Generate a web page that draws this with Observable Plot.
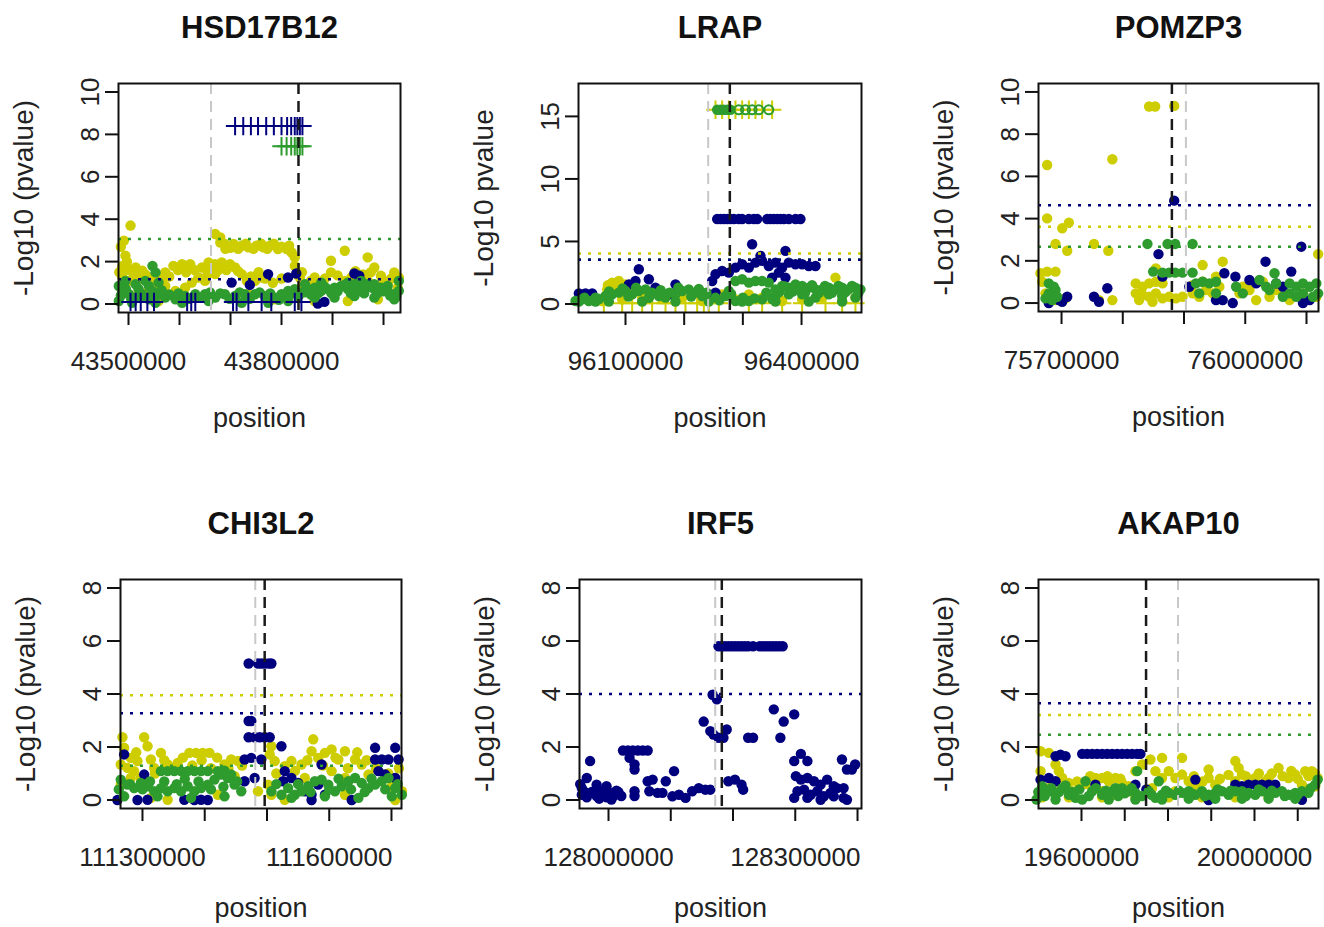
<!DOCTYPE html>
<html><head><meta charset="utf-8">
<script src="https://cdn.jsdelivr.net/npm/d3@7"></script>
<script src="https://cdn.jsdelivr.net/npm/@observablehq/plot@0.6"></script>
<style>
html,body{margin:0;padding:0;background:#fff;}
#wrap{position:relative;width:1324px;height:927px;overflow:hidden;background:#fff;}
#wrap svg{position:absolute;overflow:visible;}
</style></head><body><div id="wrap"></div>
<script>
// ---------------- DATA ----------------
const titles = ["HSD17B12","LRAP","POMZP3","CHI3L2","IRF5","AKAP10"];
const yLabels = ["-Log10 (pvalue)","-Log10 pvalue","-Log10 (pvalue)","-Log10 (pvalue)","-Log10 (pvalue)","-Log10 (pvalue)"];

// Panel 1: HSD17B12
const p1Yellow = [[43504000,3.70],[43491000,2.99],[43494000,2.28],[43488000,1.80],[43501000,1.64],[43514000,1.72],[43527000,1.57],[43540000,1.25],[43559000,1.25],[43572000,1.49],[43588000,1.80],[43605000,1.88],[43621000,1.88],[43644000,1.72],[43670000,3.30],[43680000,3.14],[43689000,2.83],[43706000,2.83],[43722000,2.75],[43735000,2.67],[43751000,2.75],[43764000,2.67],[43777000,2.75],[43793000,2.59],[43810000,2.59],[43820000,2.43],[43826000,2.20],[43826000,1.80],[43829000,1.41],[43657000,1.96],[43670000,1.88],[43683000,1.96],[43699000,1.88],[43709000,1.72],[43722000,1.41],[43732000,1.09],[43748000,1.09],[43761000,1.25],[43670000,1.41],[43650000,1.09],[43637000,1.25],[43624000,1.01],[43611000,0.77],[43592000,0.62],[43572000,0.85],[43553000,0.85],[43540000,0.62],[43520000,0.62],[43501000,1.09],[43488000,1.25],[43897000,2.04],[43924000,2.51],[43897000,1.49],[43924000,1.09],[43937000,1.25],[43950000,1.09],[43969000,2.20],[43982000,1.72],[43995000,1.33],[44021000,1.49],[44030000,1.25],[43878000,0.93],[43852000,0.93],[43865000,1.25],[43969000,1.09],[44008000,0.93],[44028000,0.77],[43836000,1.25],[43839000,0.77],[43559000,0.14],[43605000,0.30],[43644000,0.30],[43735000,0.46],[43787000,0.22],[43813000,0.38],[43865000,0.14],[43930000,0.14],[43989000,0.22],
  [43700000,2.65],[43715000,2.60],[43730000,2.85],[43745000,2.60],[43760000,2.85],[43772000,2.60],[43785000,2.85],[43800000,2.70],[43815000,2.75],[43690000,2.60],[43680000,2.90],[43485000,2.70],[43497000,2.00],
  [43482000,1.50],[43495000,1.60],[43510000,1.40],[43520000,1.20],[43533000,1.40],[43546000,1.05],[43565000,1.10],[43580000,1.30],[43597000,1.60],[43613000,1.50],[43630000,1.60],[43655000,1.40],[43663000,1.70],[43676000,1.60],[43692000,1.60],[43715000,1.55],[43740000,1.30],[43755000,1.50],[43768000,1.20],[43783000,1.00],[43800000,1.20],[43840000,1.50],[43858000,1.10],[43885000,1.20],[43910000,1.35],[43945000,1.55],[43960000,1.40],[43975000,1.50],[44000000,1.10],[44015000,1.20]];
const p1Blue = [[43773700,1.41],[43702200,1.01],[43737900,0.90],[43812700,1.25],[43829000,1.44],[43942700,1.44],[43952500,1.33],[43871200,0.02],[43884200,0.10]];
const p1Green = [[43547000,1.80],[43553000,1.49],[43494000,1.09],[43514000,0.93],[43533000,1.09],[43481000,0.85],[43540000,0.85],[43559000,1.01],[43846000,0.93],[43878000,1.01],[43930000,1.01],[43956000,1.09],[43982000,0.93],[44008000,0.85],[44030000,1.09],[43488000,0.62],[43501000,0.46],[43514000,0.30],[43527000,0.46],[43540000,0.22],[43559000,0.46],[43572000,0.30],[43592000,0.22],[43611000,0.38],[43631000,0.46],[43650000,0.46],[43670000,0.30],[43689000,0.46],[43709000,0.38],[43728000,0.46],[43748000,0.46],[43767000,0.38],[43787000,0.30],[43800000,0.46],[43813000,0.62],[43826000,0.70],[43839000,0.54],[43852000,0.70],[43865000,0.77],[43878000,0.62],[43891000,0.70],[43904000,0.77],[43917000,0.85],[43930000,0.70],[43943000,0.93],[43956000,0.77],[43969000,0.93],[43982000,0.70],[43995000,0.77],[44008000,0.62],[44021000,0.46],[44030000,0.62],[43481000,0.14],[43507000,0.06],[43553000,0.06],[43605000,0.06],[43657000,0.14],[43722000,0.06],[43774000,0.06],[43813000,0.14],[43865000,0.30],[43904000,0.30],[43943000,0.38],[43982000,0.30],[44021000,0.22],
  [43485000,0.40],[43495000,0.70],[43505000,0.25],[43520000,0.70],[43533000,0.30],[43547000,0.60],[43565000,0.65],[43580000,0.45],[43598000,0.50],[43620000,0.25],[43640000,0.30],[43660000,0.55],[43680000,0.50],[43698000,0.25],[43718000,0.55],[43738000,0.25],[43757000,0.55],[43778000,0.50],[43795000,0.20],[43808000,0.40],[43820000,0.50],[43833000,0.35],[43846000,0.55],[43858000,0.45],[43872000,0.50],[43885000,0.80],[43898000,0.50],[43910000,0.60],[43923000,0.90],[43936000,0.50],[43950000,0.60],[43962000,0.50],[43975000,0.80],[43988000,0.50],[44000000,0.60],[44013000,0.40],[44025000,0.35]];
const p1BluePlus = [[43709000,8.39],[43725000,8.39],[43740000,8.39],[43754000,8.39],[43770000,8.39],[43785000,8.39],[43800000,8.39],[43811000,8.39],[43819000,8.39],[43826000,8.39],[43831000,8.39],[43836000,8.39],[43841000,8.39],[43504000,0.1],[43514000,0.1],[43524000,0.1],[43537000,0.1],[43550000,0.1],[43615000,0.1],[43623000,0.1],[43631000,0.1],[43705000,0.1],[43712000,0.1],[43735000,0.1],[43761000,0.1],[43780000,0.1],[43826000,0.1],[43839000,0.1]];
const p1GreenPlus = [[43800000,7.44],[43810000,7.44],[43819000,7.44],[43826000,7.44],[43831000,7.44],[43836000,7.44],[43841000,7.44]];
const p1Thresholds = [["green",3.07],["blue",1.17]];
const p1Genes = {grey:43661800, black:43833300};
const p1XTicks = [43500000,43600000,43700000,43800000,43900000,44000000];
const p1XLabels = [43500000,43800000];
const p1YTicks = [0,2,4,6,8,10];

// Panel 2: LRAP
const p2Yellow = [[96077300,1.71],[96088600,1.84],[96100000,1.57],[96068800,1.17],[96083000,1.17],[96457800,2.11],[96060200,0.24],[96094300,0.37],[96128400,0.51],[96162500,0.37],[96196600,0.51],[96230600,0.24],[96264700,0.77],[96287400,0.37],[96310200,0.77],[96332900,0.51],[96367000,0.24],[96401000,0.37],[96435100,0.51],[96469200,0.24],[96491900,0.51],[96070000,1.50],[96092000,1.45],[96105000,1.30]];
const p2YellowPlus = [[96253400,15.53],[96264700,15.53],[96276100,15.53],[96287400,15.53],[96298800,15.53],[96310200,15.53],[96321500,15.53],[96332900,15.53],[96349900,15.53],[96063100,0.05],[96094300,0.05],[96111400,0.05],[96128400,0.05],[96145400,0.05],[96168200,0.05],[96185200,0.05],[96202200,0.05],[96222100,0.05],[96233500,0.05],[96242000,0.05],[96259000,0.05],[96310200,0.05],[96332900,0.05],[96367000,0.05],[96401000,0.05],[96440800,0.05],[96469200,0.05],[96491900,0.05]];
const p2Blue = [[96256200,6.79],[96261900,6.79],[96267600,6.79],[96273200,6.79],[96278900,6.79],[96284600,6.79],[96293100,6.79],[96298800,6.79],[96310200,6.79],[96318700,6.79],[96324400,6.79],[96341400,6.79],[96347100,6.79],[96352800,6.79],[96358400,6.79],[96364100,6.79],[96369800,6.79],[96378300,6.79],[96389700,6.79],[96398200,6.79],[96315800,4.78],[96330000,3.85],[96372600,4.25],[96122700,2.78],[96139800,1.98],[96185200,1.57],[96247700,1.84],[96253400,2.38],[96264700,2.64],[96276100,2.51],[96287400,2.91],[96298800,3.18],[96310200,2.91],[96321500,3.31],[96332900,3.45],[96344200,3.04],[96355600,3.31],[96367000,2.91],[96378300,3.31],[96389700,3.18],[96401000,3.18],[96412400,3.04],[96423800,3.04],[96361300,2.51],[96372600,2.11],[96349900,2.11],[96020500,0.85],[96031800,0.85],[96043200,0.85],[96105700,1.57],[96117000,1.84],[96151100,1.31],[96179500,0.77],[96242000,0.77],[96253400,0.91]];
const p2Green = [[96287400,1.84],[96298800,1.98],[96310200,1.71],[96321500,1.84],[96332900,1.84],[96344200,1.71],[96276100,1.04],[96355600,1.17],[96367000,1.44],[96378300,1.31],[96389700,1.57],[96401000,1.44],[96412400,1.31],[96423800,1.17],[96435100,1.17],[96446500,1.31],[96457800,1.17],[96469200,1.31],[96480500,1.17],[96491900,1.31],[96500400,1.17],[96014800,0.24],[96026200,0.37],[96037500,0.24],[96048900,0.51],[96065900,0.64],[96077300,0.77],[96088600,0.91],[96100000,1.04],[96111400,0.77],[96122700,1.04],[96134100,1.17],[96145400,0.91],[96156800,0.64],[96168200,0.51],[96185200,0.77],[96196600,1.04],[96207900,1.17],[96219300,0.91],[96230600,0.64],[96253400,0.51],[96270400,0.64],[96287400,0.24],[96310200,0.24],[96332900,0.37],[96355600,0.64],[96378300,0.77],[96401000,0.77],[96423800,0.51],[96446500,0.77],[96469200,0.64],[96491900,0.51],[96020500,0.2],[96048900,0.2],[96071600,0.2],[96128400,0.2],[96185200,0.2],[96242000,0.2],[96298800,0.2],[96355600,0.2],[96412400,0.2],[96469200,0.2],
  [96030000,0.50],[96055000,0.40],[96072000,1.00],[96095000,1.25],[96105000,0.60],[96118000,1.30],[96140000,0.50],[96160000,1.10],[96175000,0.90],[96190000,1.30],[96212000,0.60],[96225000,1.20],[96238000,0.90],[96260000,0.30],[96280000,0.80],[96300000,0.50],[96320000,0.45],[96340000,0.90],[96350000,0.40],[96362000,0.95],[96372000,1.40],[96385000,1.00],[96395000,1.25],[96406000,0.90],[96418000,1.50],[96430000,0.90],[96440000,1.45],[96452000,0.90],[96463000,1.45],[96475000,0.95],[96486000,1.45],[96497000,0.90],
  [96256200,15.53],[96261900,15.53],[96267600,15.53],[96273200,15.53],[96278900,15.53]];
const p2GreenRing = [[96293100,15.53],[96304500,15.53],[96315800,15.53],[96327200,15.53],[96344200,15.53]];
const p2Thresholds = [["yellow",4.03],["green",3.55],["blue",3.53]];
const p2Genes = {grey:96240900, black:96277800};
const p2XTicks = [96100000,96200000,96300000,96400000];
const p2XLabels = [96100000,96400000];
const p2YTicks = [0,5,10,15];

// Panel 3: POMZP3
const p3Yellow = [[75843000,9.31],[75852900,9.31],[75884000,9.34],[75676500,6.54],[75783000,6.81],[75676500,4.01],[75701100,3.54],[75712000,3.81],[75690200,2.80],[75709300,2.48],[75753000,2.80],[75776400,2.48],[76119000,2.32],[75963200,1.96],[75930400,1.80],[75952200,1.25],[75665600,1.41],[75676500,1.49],[75690200,1.49],[75668300,1.01],[75673800,0.46],[75690200,0.14],[75706500,0.22],[75761100,0.14],[75783000,0.14],[75821200,0.93],[75832100,0.77],[75843000,0.93],[75854000,1.01],[75864900,0.93],[75821200,0.46],[75832100,0.38],[75843000,0.30],[75854000,0.46],[75864900,0.22],[75875800,0.30],[75886700,0.22],[75897600,0.30],[75826700,0.14],[75848500,0.06],[75854000,1.64],[75914000,0.46],[75924900,0.30],[75935900,0.62],[75946800,0.46],[75957700,0.77],[75930400,1.01],[75914000,0.85],[75990500,0.46],[75996000,0.77],[76017800,0.14],[76039600,0.30],[76050500,0.62],[76072400,0.14],[76094200,0.46],[76116100,0.30],[76028700,1.01],[76006800,0.62]];
const p3Blue = [[75884000,4.85],[75858300,2.32],[76091500,2.67],[76033100,1.96],[76075100,1.49],[75983900,1.25],[75965900,1.41],[75864900,1.25],[75774800,0.70],[75753000,0.30],[75761100,0.06],[75709300,0.30],[75701100,0.06],[75963200,0.14],[75908600,0.77],[75952200,0.14],[75979600,0.00],[76006800,1.09],[76017800,0.93],[76050500,0.93],[76061400,0.77],[76094200,0.00],[76105200,0.14],[75679200,0.00],[75695600,0.14]];
const p3Green = [[75840300,2.80],[75873100,2.80],[75885600,2.80],[75914000,2.80],[75849600,1.49],[75864900,1.44],[75875800,1.44],[75885600,1.44],[75897600,1.44],[75914000,1.44],[75919500,0.93],[75930400,1.01],[75941300,0.93],[75952200,1.01],[75924900,0.46],[75952200,0.46],[75985000,0.77],[75996000,0.46],[76023200,1.09],[76034200,0.77],[76047800,1.41],[76050500,0.93],[76072400,0.93],[76083300,0.77],[76094200,0.93],[76072400,0.46],[76083300,0.30],[76094200,0.46],[76105200,0.77],[76116100,0.93],[76119000,0.46],[76110600,0.30],[76039600,0.62],[76061400,0.30],[75679200,0.93],[75687400,0.77],[75690200,0.62],[75679200,0.46],[75673800,0.22],[75692900,0.30],[75684700,0.14]];
const p3Thresholds = [["blue",4.63],["yellow",3.62],["green",2.67]];
const p3Genes = {grey:75903100, black:75880200};
const p3XTicks = [75700000,75800000,75900000,76000000,76100000];
const p3XLabels = [75700000,76000000];
const p3YTicks = [0,2,4,6,8,10];

// Panel 4: CHI3L2
const p4Yellow = [[111267800,2.37],[111302700,2.37],[111308100,2.03],[111329600,1.78],[111375300,1.78],[111386100,1.78],[111396800,1.78],[111407600,1.78],[111574300,2.29],[111507100,2.03],[111504400,1.72],[111270500,1.97],[111281200,1.59],[111292000,1.47],[111313500,1.53],[111275800,1.21],[111265100,1.34],[111286600,1.09],[111318800,1.21],[111297300,0.83],[111340400,1.34],[111356500,1.40],[111431800,1.34],[111442500,1.53],[111453300,1.47],[111512400,1.47],[111528600,1.28],[111539300,1.47],[111555400,1.34],[111571600,1.84],[111582300,1.59],[111593100,1.78],[111603800,1.91],[111614600,1.53],[111625300,1.84],[111641500,1.53],[111652200,1.34],[111663000,0.96],[111625300,0.83],[111603800,1.09],[111560800,0.83],[111501700,0.58],[111485500,0.33],[111507100,0.20],[111421000,0.20],[111340400,0.01],[111313500,0.08],[111706000,0.83],[111716700,0.33],[111706000,0.00],[111281200,0.83],[111265100,0.58],[111528600,0.01],[111625300,0.20],
  [111290000,1.80],[111320000,1.00],[111335000,1.50],[111350000,1.20],[111365000,1.60],[111380000,1.30],[111395000,1.50],[111410000,1.20],[111420000,1.60],[111438000,1.20],[111448000,0.90],[111460000,1.30],[111515000,1.00],[111545000,1.10],[111565000,1.50],[111590000,1.30],[111610000,1.60],[111630000,1.20],[111645000,1.80],[111660000,1.50],[111675000,1.20],[111695000,1.00],[111712000,1.20],[111700000,0.50]];
const p4Blue = [[111470500,5.15],[111485500,5.15],[111490900,5.15],[111496300,5.15],[111502700,5.15],[111507100,5.15],[111470500,2.98],[111474800,2.98],[111470500,2.37],[111480200,2.37],[111488200,2.37],[111496300,2.37],[111504400,2.37],[111523200,2.03],[111464000,1.53],[111474800,1.59],[111490900,1.53],[111480200,0.83],[111464000,0.71],[111528600,1.09],[111539300,0.83],[111525900,0.71],[111550100,0.64],[111560800,0.33],[111571600,0.20],[111582300,0.58],[111587700,1.34],[111593100,0.20],[111673700,1.97],[111706000,1.97],[111673700,1.53],[111684500,1.53],[111695200,1.53],[111711400,1.53],[111679100,1.09],[111689900,0.96],[111706000,0.83],[111259700,0.00],[111292000,0.00],[111308100,0.01],[111367200,0.01],[111383400,0.00],[111394100,0.01],[111404900,0.00],[111571600,0.00],[111636100,0.00],[111270500,1.72],[111302700,0.96]];
const p4Green = [[111329600,1.09],[111340400,1.09],[111351100,1.09],[111361900,1.09],[111372600,1.09],[111383400,1.09],[111394100,1.09],[111404900,1.09],[111421000,1.09],[111431800,1.11],[111442500,0.96],[111265100,0.77],[111275800,0.58],[111286600,0.45],[111297300,0.64],[111308100,0.52],[111318800,0.33],[111329600,0.45],[111340400,0.33],[111351100,0.45],[111361900,0.33],[111372600,0.52],[111383400,0.33],[111394100,0.45],[111404900,0.58],[111415600,0.77],[111426400,0.96],[111437100,0.83],[111447900,0.58],[111458700,0.33],[111507100,0.33],[111523200,0.20],[111534000,0.45],[111544700,0.20],[111555400,0.33],[111566200,0.52],[111576900,0.71],[111587700,0.77],[111598500,0.58],[111609200,0.33],[111620000,0.52],[111630700,0.71],[111641500,0.83],[111652200,0.64],[111663000,0.45],[111673700,0.58],[111684500,0.71],[111695200,0.83],[111706000,0.45],[111716700,0.20],[111270500,0.14],[111324200,0.14],[111378000,0.08],[111431800,0.14],[111539300,0.08],[111593100,0.14],[111646800,0.08],[111700600,0.14],
  [111262000,0.40],[111280000,0.60],[111300000,0.40],[111312000,0.70],[111335000,0.70],[111355000,0.60],[111368000,0.80],[111390000,0.70],[111410000,0.40],[111430000,0.50],[111452000,0.70],[111515000,0.60],[111550000,0.60],[111570000,0.30],[111600000,0.40],[111615000,0.80],[111635000,0.40],[111657000,0.30],[111668000,0.80],[111690000,0.40],[111710000,0.60]];
const p4Thresholds = [["green",1.29],["yellow",3.95],["blue",3.27]];
const p4Genes = {grey:111481200, black:111496300};
const p4XTicks = [111300000,111400000,111500000,111600000,111700000];
const p4XLabels = [111300000,111600000];
const p4YTicks = [0,2,4,6,8];

// Panel 5: IRF5 (single series)
const p5Blue = [[128176700,5.8],[128182000,5.8],[128187200,5.8],[128192500,5.8],[128197800,5.8],[128203100,5.8],[128208400,5.8],[128213700,5.8],[128219000,5.8],[128224300,5.8],[128232200,5.8],[128242800,5.8],[128248100,5.8],[128253400,5.8],[128258700,5.8],[128263900,5.8],[128269200,5.8],[128274500,5.8],[128279800,5.8],[128167200,3.97],[128174000,3.80],[128152900,2.96],[128163500,2.60],[128168700,2.47],[128176700,2.35],[128184600,2.35],[128189900,2.66],[128224300,2.35],[128232200,2.35],[128265500,3.42],[128281400,2.96],[128298300,3.23],[128276100,2.35],[128023300,1.87],[128031200,1.87],[128039100,1.87],[128047100,1.87],[128055000,1.87],[128062900,1.87],[128033800,1.59],[128041800,1.34],[128041800,1.15],[127970400,1.47],[127965100,0.83],[127980900,0.58],[127996800,0.52],[127957100,0.20],[127965100,0.10],[127973000,0.30],[127980900,0.15],[127988900,0.33],[127996800,0.10],[128004700,0.25],[128012700,0.35],[128020600,0.15],[127957100,0.45],[127985000,0.05],[128004700,0.02],[127954500,0.60],[127962000,0.30],[127978000,0.30],[127992000,0.25],[128000000,0.30],[128008000,0.15],[128016000,0.30],[128041800,0.33],[128041800,0.15],[128062900,0.71],[128070900,0.77],[128065600,0.33],[128078800,0.27],[128092000,0.71],[128105300,1.09],[128086700,0.27],[128102600,0.14],[128113200,0.20],[128123800,0.08],[128134400,0.33],[128145000,0.45],[128155500,0.39],[128163500,0.39],[128192500,0.71],[128203100,0.77],[128213700,0.58],[128216300,0.39],[128298300,1.47],[128309000,1.74],[128319500,1.47],[128301000,0.90],[128309000,0.77],[128319500,0.83],[128330100,0.71],[128340700,0.58],[128351200,0.77],[128361800,0.52],[128303600,0.33],[128314200,0.39],[128324800,0.20],[128335400,0.33],[128346000,0.14],[128356500,0.27],[128367100,0.45],[128377700,0.08],[128298300,0.08],[128319500,0.08],[128340700,0.01],[128361800,0.14],[128383000,0.01],[128375000,1.53],[128383000,1.15],[128390900,1.15],[128396200,1.34],[128377700,0.45]];
const p5Thresholds = [["blue",4.0]];
const p5Genes = {grey:128171400, black:128182000};
const p5XTicks = [128000000,128100000,128200000,128300000,128400000];
const p5XLabels = [128000000,128300000];
const p5YTicks = [0,2,4,6,8];

// Panel 6: AKAP10
const p6Yellow = [[19505300,1.84],[19524600,1.78],[19540000,1.34],[19547700,1.09],[19555400,0.83],[19532300,0.58],[19505300,1.09],[19570800,0.64],[19586200,0.33],[19632300,0.83],[19647700,0.83],[19663100,0.71],[19678500,0.83],[19693900,0.64],[19709300,0.52],[19647700,0.33],[19678500,0.20],[19724700,1.09],[19740100,1.34],[19759300,1.53],[19786300,1.59],[19832500,1.59],[19770900,1.09],[19786300,0.83],[19801700,1.09],[19817100,0.83],[19832500,0.96],[19847900,0.71],[19863300,0.52],[19817100,0.33],[19763200,0.45],[19894000,0.83],[19894000,1.15],[19909400,0.58],[19955600,1.47],[19963300,1.21],[19971000,0.96],[19955600,0.71],[20001800,0.83],[20032600,0.83],[20055700,1.21],[20078800,0.83],[20094200,0.96],[20117200,1.09],[20132600,1.09],[20146000,0.83],[19986400,0.58],[20017200,0.45],[20048000,0.52],[20109600,0.58],[20140300,0.52],[19509200,0.10],[19570800,0.10],[19647700,0.10],[19724700,0.10],[19801700,0.10],[19878700,0.10],[19955600,0.10],[20032600,0.10],[20109600,0.10],
  [19860000,0.90],[19880000,0.70],[19920000,0.80],[19940000,0.95],[19980000,0.90],[20010000,1.00],[20025000,0.70],[20040000,1.00],[20065000,0.90],[20085000,1.10],[20100000,0.80],[20125000,0.90],[20140000,1.00],[19590000,0.70],[19610000,0.60],[19620000,0.90],[19660000,0.90],[19690000,0.80],[19700000,0.40]];
const p6Blue = [[19601600,1.74],[19613100,1.74],[19624700,1.74],[19636200,1.74],[19647700,1.74],[19659300,1.74],[19670800,1.74],[19682400,1.74],[19693900,1.74],[19705500,1.74],[19717000,1.74],[19728600,1.74],[19736300,1.74],[19540000,1.65],[19551500,1.71],[19563100,1.65],[19505300,0.77],[19524600,0.83],[19540000,0.71],[19955600,0.58],[19971000,0.52],[20001800,0.58],[20032600,0.58],[19863300,0.77],[19894000,0.00],[20109600,0.01],[19632300,0.58],[19724700,0.58],[19750000,0.40],[19986400,0.58],[20017200,0.58],[20048000,0.58]];
const p6Green = [[19728600,1.09],[19509200,0.52],[19524600,0.33],[19540000,0.20],[19555400,0.45],[19570800,0.20],[19586200,0.08],[19609300,0.71],[19624700,0.33],[19647700,0.20],[19670800,0.33],[19693900,0.45],[19709300,0.33],[19724700,0.27],[19755500,0.33],[19770900,0.08],[19786300,0.20],[19801700,0.27],[19817100,0.20],[19832500,0.27],[19847900,0.33],[19863300,0.20],[19878700,0.33],[19894000,0.20],[19909400,0.27],[19924800,0.33],[19940200,0.20],[19955600,0.33],[19971000,0.33],[19986400,0.27],[20001800,0.20],[20017200,0.33],[20032600,0.20],[20048000,0.27],[20063400,0.33],[20078800,0.20],[20094200,0.27],[20109600,0.33],[20124900,0.27],[20140300,0.58],[20146000,0.77],[19778600,0.71],[19678500,0.45],[19496000,0.02],[19540000,0.02],[19601600,0.02],[19663100,0.02],[19724700,0.02],[19786300,0.02],[19847900,0.05],[19909400,0.05],[19971000,0.05],[20032600,0.05],[20094200,0.05],
  [19500000,0.30],[19515000,0.15],[19530000,0.45],[19548000,0.30],[19563000,0.55],[19578000,0.30],[19595000,0.40],[19617000,0.15],[19633000,0.45],[19656000,0.35],[19685000,0.15],[19700000,0.25],[19716000,0.45],[19740000,0.15],[19762000,0.20],[19795000,0.35],[19825000,0.35],[19855000,0.25],[19885000,0.15],[19915000,0.40],[19945000,0.35],[19980000,0.15],[20010000,0.40],[20040000,0.35],[20070000,0.15],[20100000,0.20],[20130000,0.45]];
const p6Thresholds = [["blue",3.65],["yellow",3.21],["green",2.46]];
const p6Genes = {grey:19823200, black:19749300};
const p6XTicks = [19600000,19700000,19800000,19900000,20000000,20100000];
const p6XLabels = [19600000,20000000];
const p6YTicks = [0,2,4,6,8];

// ---------------- RENDER ----------------
const COLORS = {blue:"#00007f", yellow:"#cdcd00", green:"#2e9b2e"};
const F = {fam:'"Liberation Sans", Arial, sans-serif', tick:26, lab:27, ylab:28, title:31};

const panels = [
  {left:0, top:3, boxW:282, boxH:229, posDy:106, xDomain:[43480400,44033300], yDomain:[-0.4,10.4],
   yellow:p1Yellow, blue:p1Blue, green:p1Green, bluePlus:p1BluePlus, greenPlus:p1GreenPlus,
   thr:p1Thresholds, genes:p1Genes, xTicks:p1XTicks, xLabels:p1XLabels, yTicks:p1YTicks},
  {left:460, top:3, boxW:283, boxH:229, posDy:106, xDomain:[96019900,96502200], yDomain:[-0.68,17.63],
   yellow:p2Yellow, yellowPlus:p2YellowPlus, blue:p2Blue, green:p2Green, greenRing:p2GreenRing,
   thr:p2Thresholds, genes:p2Genes, xTicks:p2XTicks, xLabels:p2XLabels, yTicks:p2YTicks},
  {left:920, top:3, boxW:280, boxH:228, posDy:106, xDomain:[75662400,76119600], yDomain:[-0.4,10.4],
   yellow:p3Yellow, blue:p3Blue, green:p3Green,
   thr:p3Thresholds, genes:p3Genes, xTicks:p3XTicks, xLabels:p3XLabels, yTicks:p3YTicks},
  {left:2, top:499, boxW:281, boxH:229, posDy:100, xDomain:[111264700,111716100], yDomain:[-0.32,8.32],
   yellow:p4Yellow, blue:p4Blue, green:p4Green,
   thr:p4Thresholds, genes:p4Genes, xTicks:p4XTicks, xLabels:p4XLabels, yTicks:p4YTicks},
  {left:461, top:499, boxW:282, boxH:229, posDy:100, xDomain:[127953400,128406400], yDomain:[-0.32,8.32],
   blue:p5Blue,
   thr:p5Thresholds, genes:p5Genes, xTicks:p5XTicks, xLabels:p5XLabels, yTicks:p5YTicks},
  {left:920, top:499, boxW:280, boxH:229, posDy:100, xDomain:[19500600,20148000], yDomain:[-0.32,8.32],
   yellow:p6Yellow, blue:p6Blue, green:p6Green,
   thr:p6Thresholds, genes:p6Genes, xTicks:p6XTicks, xLabels:p6XLabels, yTicks:p6YTicks}
];

const X = d => d[0], Y = d => d[1];
const dot = (data, col) => Plot.dot(data, {x:X, y:Y, r:5.2, fill:col, stroke:"none"});
const plus = (data, col) => Plot.dot(data, {x:X, y:Y, r:6, symbol:"plus", stroke:col, fill:"none", strokeWidth:2});
const ring = (data, col) => Plot.dot(data, {x:X, y:Y, r:4.5, symbol:"circle", stroke:col, fill:"none", strokeWidth:2});
const txt = {textAnchor:"middle", lineAnchor:"middle", fontFamily:F.fam};

const wrap = document.getElementById("wrap");
panels.forEach((p, i) => {
  const mL = 118, mT = 80, mR = 6, mB = 130;
  const marks = [];
  if (p.yellow) marks.push(dot(p.yellow, COLORS.yellow));
  if (p.yellowPlus) marks.push(plus(p.yellowPlus, COLORS.yellow));
  if (p.blue) marks.push(dot(p.blue, COLORS.blue));
  if (p.green) marks.push(dot(p.green, COLORS.green));
  if (p.greenRing) marks.push(ring(p.greenRing, COLORS.green));
  if (p.bluePlus) marks.push(plus(p.bluePlus, COLORS.blue));
  if (p.greenPlus) marks.push(plus(p.greenPlus, COLORS.green));
  p.thr.forEach(([s, v]) => marks.push(Plot.ruleY([v], {stroke:COLORS[s], strokeWidth:2.5, strokeDasharray:"3,7"})));
  marks.push(Plot.ruleX([p.genes.grey], {stroke:"#c8c8c8", strokeWidth:2, strokeDasharray:"11,7"}));
  marks.push(Plot.ruleX([p.genes.black], {stroke:"#1a1a1a", strokeWidth:2.5, strokeDasharray:"11,7"}));
  marks.push(Plot.frame({stroke:"#111", strokeWidth:2}));
  marks.push(Plot.axisX({ticks:p.xTicks, tickSize:13, tickFormat:() => "", strokeWidth:2, stroke:"#111", label:null}));
  marks.push(Plot.axisY({ticks:p.yTicks, tickSize:13, tickFormat:() => "", strokeWidth:2, stroke:"#111", label:null}));
  marks.push(Plot.text(p.yTicks, {...txt, y:d => d, text:d => String(d), frameAnchor:"left", dx:-28, rotate:-90, fontSize:F.tick, fill:"#222"}));
  marks.push(Plot.text(p.xLabels, {...txt, x:d => d, text:d => String(d), frameAnchor:"bottom", dy:49, fontSize:F.tick, fill:"#222"}));
  marks.push(Plot.text([titles[i]], {...txt, text:d => d, frameAnchor:"top", dy:-55, fontSize:F.title, fontWeight:"bold", fill:"#111"}));
  marks.push(Plot.text([yLabels[i]], {...txt, text:d => d, frameAnchor:"left", dx:-94, rotate:-90, fontSize:F.ylab, fill:"#222"}));
  marks.push(Plot.text(["position"], {...txt, text:d => d, frameAnchor:"bottom", dy:p.posDy, fontSize:F.lab, fill:"#222"}));
  const svg = Plot.plot({
    width: mL + p.boxW + mR, height: mT + p.boxH + mB,
    marginLeft: mL, marginTop: mT, marginRight: mR, marginBottom: mB,
    x: {domain: p.xDomain, label: null},
    y: {domain: p.yDomain, label: null},
    style: {background: "transparent", color: "#111", fontFamily: F.fam, overflow: "visible"},
    marks
  });
  svg.style.left = p.left + "px";
  svg.style.top = p.top + "px";
  wrap.appendChild(svg);
});
</script></body></html>
